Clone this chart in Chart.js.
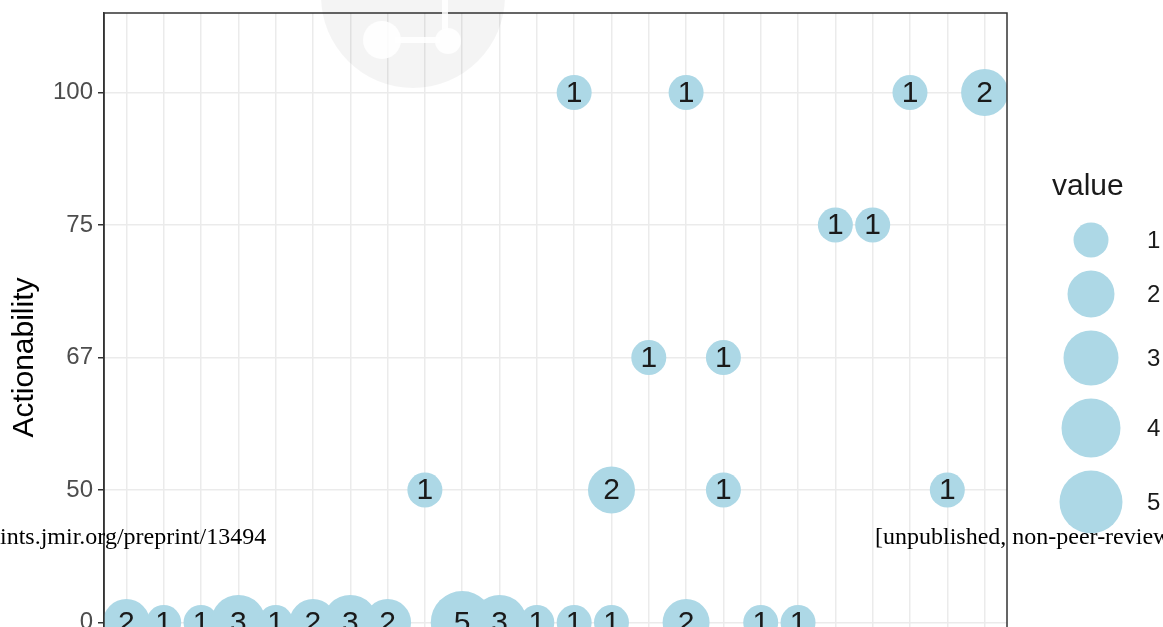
<!DOCTYPE html>
<html>
<head>
<meta charset="utf-8">
<script src="https://cdn.jsdelivr.net/npm/chart.js@4/dist/chart.umd.min.js"></script>
<style>
  body { margin: 0; background: #fff; }
  #wrap { width: 1163px; height: 627px; overflow: hidden; position: relative; }
</style>
</head>
<body>
<div id="wrap"><canvas id="chart1" width="1163" height="760"></canvas></div>
<script>
// y levels (discrete) and the bubbles
var yLevels = ['0', '50', '67', '75', '100'];
var xCount = 24; // number of discrete x positions (labels are cropped out)

// column index, y level, count
var bubbleCol   = [12, 15, 21, 23,   19, 20,   14, 16,   8, 13, 16, 22,   0, 1, 2, 3, 4, 5, 6, 7, 9, 10, 11, 12, 13, 15, 17, 18];
var bubbleLevel = ['100', '100', '100', '100', '75', '75', '67', '67', '50', '50', '50', '50',
                   '0', '0', '0', '0', '0', '0', '0', '0', '0', '0', '0', '0', '0', '0', '0', '0'];
var bubbleCount = [1, 1, 1, 2,   1, 1,   1, 1,   1, 2, 1, 1,   2, 1, 1, 3, 1, 2, 3, 2, 5, 3, 1, 1, 1, 2, 1, 1];
var legendValues = [1, 2, 3, 4, 5];

// styling
var fontFam = '"Liberation Sans", Arial, sans-serif';
var bubbleColor = '#ADD8E6';
var radiusFor = [0, 17.5, 23.5, 27.5, 29.5, 31.5];

var points = bubbleCol.map(function (c, i) {
    return { x: c, y: yLevels.indexOf(bubbleLevel[i]), r: radiusFor[bubbleCount[i]], v: bubbleCount[i] };
});

var extras = {
    id: 'extras',
    afterDatasetsDraw: function (chart) {
        var ctx = chart.ctx;
        var a = chart.chartArea;
        // counts inside bubbles
        var meta = chart.getDatasetMeta(0);
        ctx.save();
        ctx.beginPath();
        ctx.rect(a.left, a.top, a.right - a.left, a.bottom - a.top);
        ctx.clip();
        ctx.fillStyle = '#1a1a1a';
        ctx.font = '30px ' + fontFam;
        ctx.textAlign = 'center';
        ctx.textBaseline = 'middle';
        meta.data.forEach(function (el, i) {
            ctx.fillText(String(points[i].v), el.x, el.y + 1);
        });
        ctx.restore();
        // panel border
        ctx.save();
        ctx.strokeStyle = '#333333';
        ctx.lineWidth = 1.5;
        ctx.strokeRect(a.left, a.top, a.right - a.left, a.bottom - a.top);
        ctx.restore();
    },
    afterDraw: function (chart) {
        var ctx = chart.ctx;
        ctx.save();
        // size legend
        ctx.fillStyle = '#1a1a1a';
        ctx.font = '30px ' + fontFam;
        ctx.textAlign = 'left';
        ctx.textBaseline = 'middle';
        ctx.fillText('value', 1052, 187);
        var y = 240, prev = null;
        legendValues.forEach(function (v) {
            var r = radiusFor[v];
            if (prev !== null) y += prev + r + 13;
            ctx.fillStyle = bubbleColor;
            ctx.beginPath();
            ctx.arc(1091, y, r, 0, Math.PI * 2);
            ctx.fill();
            ctx.fillStyle = '#1a1a1a';
            ctx.font = '24px ' + fontFam;
            ctx.fillText(String(v), 1147, y + 1);
            prev = r;
        });
        // faint watermark logo
        ctx.fillStyle = 'rgba(0,0,0,0.045)';
        ctx.beginPath();
        ctx.arc(413, -4, 92, 0, Math.PI * 2);
        ctx.fill();
        ctx.fillStyle = 'rgba(255,255,255,0.85)';
        ctx.beginPath();
        ctx.arc(382, 40, 19, 0, Math.PI * 2);
        ctx.fill();
        ctx.beginPath();
        ctx.arc(448, 41, 13, 0, Math.PI * 2);
        ctx.fill();
        ctx.fillRect(395, 37, 45, 6);
        ctx.fillRect(442, 0, 6, 30);
        // page overlay text
        ctx.fillStyle = '#000';
        ctx.font = '24px "Liberation Serif", "Times New Roman", serif';
        ctx.textBaseline = 'alphabetic';
        ctx.fillText('ints.jmir.org/preprint/13494', 0, 544);
        ctx.fillText('[unpublished, non-peer-reviewed preprint]', 875, 544);
        ctx.restore();
    }
};

var ctx1 = document.getElementById('chart1').getContext('2d');
var chart1 = new Chart(ctx1, {
    type: 'bubble',
    data: {
        datasets: [{
            data: points,
            backgroundColor: bubbleColor,
            borderWidth: 0,
            hoverRadius: 0,
            clip: 0
        }]
    },
    options: {
        responsive: false,
        animation: false,
        events: [],
        layout: { autoPadding: false, padding: { left: 0, top: 13, right: 156, bottom: 0 } },
        plugins: { legend: { display: false }, tooltip: { enabled: false } },
        scales: {
            x: {
                type: 'linear',
                min: -0.6,
                max: xCount - 1 + 0.6,
                ticks: { stepSize: 1, includeBounds: false, display: false },
                grid: { color: '#ebebeb', lineWidth: 1.5, drawTicks: false },
                border: { display: false },
                afterFit: function (s) { s.height = 58; s.paddingLeft = 0; s.paddingRight = 0; }
            },
            y: {
                type: 'linear',
                min: -0.6,
                max: yLevels.length - 1 + 0.6,
                ticks: {
                    stepSize: 1,
                    includeBounds: false,
                    padding: 5,
                    color: '#4d4d4d',
                    font: { family: fontFam, size: 24 },
                    callback: function (v) { return yLevels[v] !== undefined ? yLevels[v] : ''; }
                },
                grid: { color: '#ebebeb', lineWidth: 1.5, tickColor: '#333333', tickLength: 6, tickWidth: 1.5 },
                border: { display: true, color: '#333333', width: 1.5 },
                title: {
                    display: true,
                    text: 'Actionability',
                    color: '#000',
                    font: { family: fontFam, size: 30 },
                    padding: { top: 7, bottom: 0 }
                },
                afterFit: function (s) { s.width = 104; s.paddingTop = 0; s.paddingBottom = 0; }
            }
        }
    },
    plugins: [extras]
});
</script>
</body>
</html>
